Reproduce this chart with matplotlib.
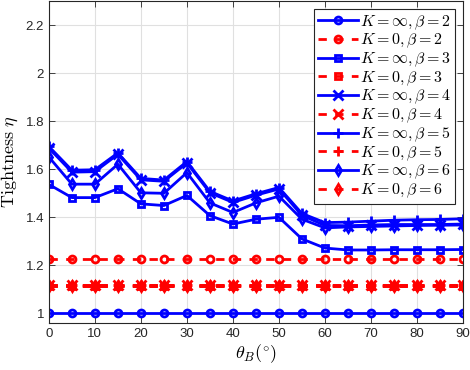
import matplotlib
matplotlib.use("Agg")
import matplotlib.pyplot as plt
import numpy as np

plt.rcParams['mathtext.fontset'] = 'cm'
plt.rcParams['font.family'] = ['Liberation Sans', 'DejaVu Sans']

theta = [0, 5, 10, 15, 20, 25, 30, 35, 40, 45, 50, 55, 60, 65, 70, 75, 80, 85, 90]

inf_b2 = [1.0] * 19
inf_b3 = [1.537, 1.482, 1.482, 1.519, 1.456, 1.449, 1.491, 1.407, 1.372, 1.392, 1.400, 1.310, 1.272, 1.264, 1.264, 1.265, 1.265, 1.265, 1.266]
inf_b4 = [1.688, 1.588, 1.590, 1.662, 1.556, 1.550, 1.626, 1.502, 1.462, 1.492, 1.518, 1.408, 1.366, 1.365, 1.368, 1.370, 1.370, 1.370, 1.372]
inf_b5 = [1.695, 1.596, 1.598, 1.668, 1.562, 1.555, 1.632, 1.508, 1.468, 1.498, 1.524, 1.416, 1.378, 1.380, 1.384, 1.388, 1.390, 1.391, 1.394]
inf_b6 = [1.651, 1.538, 1.538, 1.621, 1.502, 1.500, 1.586, 1.460, 1.420, 1.460, 1.488, 1.392, 1.356, 1.360, 1.362, 1.364, 1.366, 1.367, 1.368]

zero_b2 = [1.226] * 19
zero_b3 = [1.115] * 19
zero_b4 = [1.118] * 19
zero_b5 = [1.118] * 19
zero_b6 = [1.112] * 19

series = [
    (inf_b2, 'b', '-', 'o', r'$K=\infty,\beta=2$'),
    (zero_b2, 'r', '--', 'o', r'$K=0,\beta=2$'),
    (inf_b3, 'b', '-', 's', r'$K=\infty,\beta=3$'),
    (zero_b3, 'r', '--', 's', r'$K=0,\beta=3$'),
    (inf_b4, 'b', '-', 'x', r'$K=\infty,\beta=4$'),
    (zero_b4, 'r', '--', 'x', r'$K=0,\beta=4$'),
    (inf_b5, 'b', '-', '+', r'$K=\infty,\beta=5$'),
    (zero_b5, 'r', '--', '+', r'$K=0,\beta=5$'),
    (inf_b6, 'b', '-', 'd', r'$K=\infty,\beta=6$'),
    (zero_b6, 'r', '--', 'd', r'$K=0,\beta=6$'),
]

fig = plt.figure(figsize=(4.7, 3.7), dpi=100)
ax = fig.add_axes([0.104, 0.127, 0.881, 0.870])

for vals, c, ls, m, lab in series:
    ms = 6.5 if m in ('x', '+') else 5
    ax.plot(theta, vals, color=c, linestyle=ls, marker=m, markersize=ms,
            markerfacecolor='none', markeredgecolor=c, markeredgewidth=2,
            linewidth=2, label=lab, dashes=(3, 3) if ls == '--' else (None, None))

ax.set_xlim(0, 90)
ax.set_ylim(0.96, 2.3)
ax.set_xticks(np.arange(0, 91, 10))
ax.set_yticks([1, 1.2, 1.4, 1.6, 1.8, 2, 2.2])
ax.set_yticklabels(['1', '1.2', '1.4', '1.6', '1.8', '2', '2.2'])
ax.grid(True, color='#e0e0e0', linewidth=0.8)
ax.set_axisbelow(True)
ax.tick_params(direction='in', top=True, right=True, labelsize=9.5, colors='#262626', length=4, width=0.6)
for s in ax.spines.values():
    s.set_color('#262626')
    s.set_linewidth(0.8)

ax.set_ylabel(r'$\mathrm{Tightness}\ \eta$', fontsize=13, labelpad=4)
ax.set_xlabel(r'$\theta_B(^{\circ})$', fontsize=13, labelpad=2)

leg = ax.legend(loc='upper right', fontsize=11.5, handlelength=2.5, handletextpad=0.15,
                labelspacing=0.02, borderpad=0.25, framealpha=1, fancybox=False,
                edgecolor='#262626', bbox_to_anchor=(0.982, 0.975), borderaxespad=0.0)
leg.get_frame().set_linewidth(0.8)

fig.savefig('out.png', dpi=100)
